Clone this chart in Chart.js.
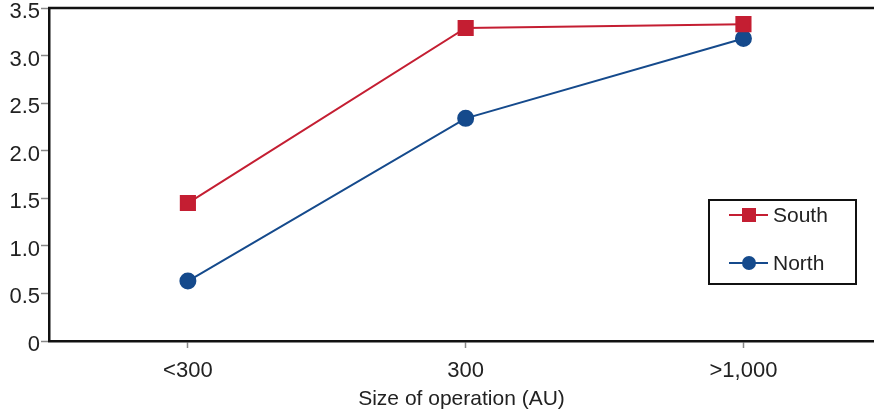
<!DOCTYPE html>
<html><head><meta charset="utf-8">
<script src="https://cdn.jsdelivr.net/npm/chart.js@4.4.0/dist/chart.umd.min.js"></script>
<style>html,body{margin:0;padding:0;background:#fff}#w{width:874px;height:413px}</style>
</head><body><div id="w"><canvas id="c"></canvas></div>
<script>
const categories = ['<300', '300', '>1,000'];
const south = [1.45, 3.29, 3.33];
const north = [0.63, 2.34, 3.18];
const yTicks = [0, 0.5, 1.0, 1.5, 2.0, 2.5, 3.0, 3.5];
const xTitle = 'Size of operation (AU)';

const FONT = '"Liberation Sans", Arial, sans-serif';
const topLine = {
  id: 'topLine',
  afterDraw(chart) {
    const {ctx, chartArea: a} = chart;
    ctx.save();
    ctx.strokeStyle = '#111'; ctx.lineWidth = 2.5;
    ctx.beginPath(); ctx.moveTo(a.left - 1, a.top); ctx.lineTo(chart.width, a.top); ctx.stroke();
    // legend box
    const bx = 709, by = 200, bw = 147, bh = 84;
    ctx.lineWidth = 2; ctx.strokeStyle = '#111';
    ctx.strokeRect(bx, by, bw, bh);
    const rows = [215, 263];
    chart.data.datasets.forEach((ds, i) => {
      const y = rows[i];
      ctx.strokeStyle = ds.borderColor; ctx.lineWidth = 2;
      ctx.beginPath(); ctx.moveTo(729, y); ctx.lineTo(768, y); ctx.stroke();
      ctx.fillStyle = ds.backgroundColor;
      if (ds.pointStyle === 'rect') { ctx.fillRect(742, y - 7, 14, 14); }
      else { ctx.beginPath(); ctx.arc(749, y, 7, 0, Math.PI * 2); ctx.fill(); }
      ctx.fillStyle = '#222'; ctx.font = '21px ' + FONT; ctx.textBaseline = 'middle'; ctx.textAlign = 'left';
      ctx.fillText(ds.label, 773, y + 1);
    });
    ctx.restore();
  }
};

new Chart(document.getElementById('c'), {
  type: 'line',
  data: {
    datasets: [
      { label: 'South', data: south.map((v, i) => ({x: i, y: v})), borderColor: '#c41e32', backgroundColor: '#c41e32',
        borderWidth: 2, pointStyle: 'rect', pointRadius: 10, pointHoverRadius: 10, tension: 0 },
      { label: 'North', data: north.map((v, i) => ({x: i, y: v})), borderColor: '#154a8c', backgroundColor: '#154a8c',
        borderWidth: 2, pointStyle: 'circle', pointRadius: 7.5, pointHoverRadius: 7.5, tension: 0 }
    ]
  },
  options: {
    responsive: true, maintainAspectRatio: false, animation: false,
    layout: { autoPadding: false, padding: { top: 8, right: 0, left: 0, bottom: 0 } },
    plugins: { legend: { display: false }, tooltip: { enabled: false } },
    scales: {
      x: {
        type: 'linear', min: -0.5, max: 2.47,
        afterBuildTicks(s) { s.ticks = categories.map((c, i) => ({value: i})); },
        afterFit(s) { s.height = 72; s.paddingLeft = 0; s.paddingRight = 0; },
        ticks: { callback: v => categories[v], color: '#222', font: { family: FONT, size: 22 }, padding: 10, maxRotation: 0 },
        grid: { drawOnChartArea: false, tickLength: 7, color: '#888', tickWidth: 1.5 },
        border: { color: '#111', width: 2.5 },
        title: { display: true, text: xTitle, color: '#222', font: { family: FONT, size: 21 }, padding: { top: 3, bottom: 1 } }
      },
      y: {
        min: 0, max: 3.5,
        afterBuildTicks(s) { s.ticks = yTicks.map(v => ({value: v})); },
        afterFit(s) { s.width = 49; s.paddingTop = 0; s.paddingBottom = 0; },
        ticks: { callback: v => v === 0 ? '0' : v.toFixed(1), color: '#222', font: { family: FONT, size: 22 }, padding: 1, labelOffset: 4 },
        grid: { drawOnChartArea: false, tickLength: 8, color: '#888', tickWidth: 1.5 },
        border: { color: '#111', width: 2.5 }
      }
    }
  },
  plugins: [topLine]
});
</script></body></html>
